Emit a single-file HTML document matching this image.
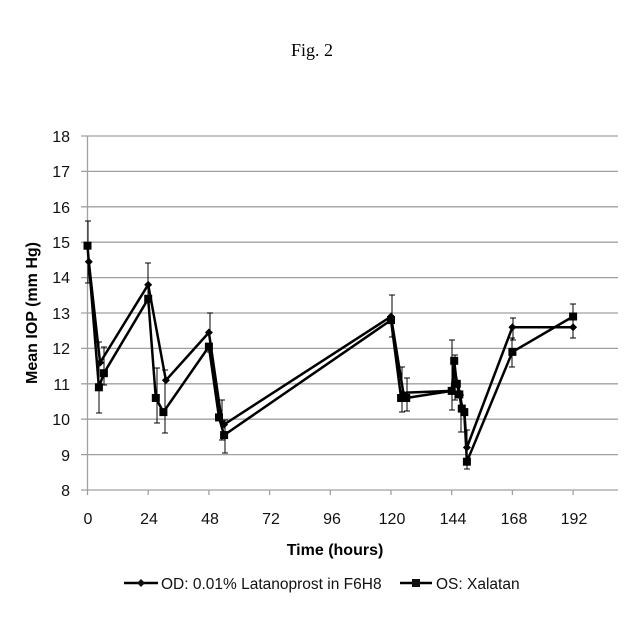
<!DOCTYPE html>
<html><head><style>body{margin:0;background:#fff}svg{display:block}</style></head><body>
<svg width="640" height="640" xmlns="http://www.w3.org/2000/svg" font-family="Liberation Sans, sans-serif">
<rect width="640" height="640" fill="#fff"/>
<text x="312" y="56" font-family="Liberation Serif, serif" font-size="18" text-anchor="middle">Fig. 2</text>
<g stroke="#a0a0a0" stroke-width="1.3">
<line x1="81" x2="618" y1="136" y2="136"/><line x1="81" x2="618" y1="171.4" y2="171.4"/><line x1="81" x2="618" y1="206.8" y2="206.8"/><line x1="81" x2="618" y1="242.2" y2="242.2"/><line x1="81" x2="618" y1="277.6" y2="277.6"/><line x1="81" x2="618" y1="313" y2="313"/><line x1="81" x2="618" y1="348.4" y2="348.4"/><line x1="81" x2="618" y1="383.8" y2="383.8"/><line x1="81" x2="618" y1="419.2" y2="419.2"/><line x1="81" x2="618" y1="454.6" y2="454.6"/><line x1="81" x2="618" y1="490" y2="490"/>
<line x1="87.5" x2="87.5" y1="136" y2="495"/>
<line x1="148.2" x2="148.2" y1="490" y2="495"/><line x1="208.9" x2="208.9" y1="490" y2="495"/><line x1="269.6" x2="269.6" y1="490" y2="495"/><line x1="330.3" x2="330.3" y1="490" y2="495"/><line x1="391" x2="391" y1="490" y2="495"/><line x1="451.7" x2="451.7" y1="490" y2="495"/><line x1="512.4" x2="512.4" y1="490" y2="495"/><line x1="573.1" x2="573.1" y1="490" y2="495"/>
</g>
<g font-size="16" text-anchor="end" fill="#111">
<text x="70" y="142">18</text><text x="70" y="177">17</text><text x="70" y="213">16</text><text x="70" y="248">15</text><text x="70" y="283">14</text><text x="70" y="319">13</text><text x="70" y="354">12</text><text x="70" y="390">11</text><text x="70" y="425">10</text><text x="70" y="461">9</text><text x="70" y="496">8</text>
</g>
<g font-size="16" text-anchor="middle" fill="#111">
<text x="88" y="524">0</text><text x="149" y="524">24</text><text x="210" y="524">48</text><text x="271" y="524">72</text><text x="332" y="524">96</text><text x="392" y="524">120</text><text x="453" y="524">144</text><text x="514" y="524">168</text><text x="574" y="524">192</text>
</g>
<text x="335" y="555" font-size="16" font-weight="bold" text-anchor="middle">Time (hours)</text>
<text transform="translate(37,313) rotate(-90)" font-size="16" font-weight="bold" text-anchor="middle">Mean IOP (mm Hg)</text>
<g stroke="#000" stroke-width="1">
<path d="M88 221V283M85 221H91M85 283H91M99 342V413M96 342H102M96 413H102M104 347V385M101 347H107M101 385H107M148 263V300M145 263H151M145 300H151M157 368V423M154 368H160M154 423H160M165 370V433M162 370H168M162 433H168M210 313V352M207 313H213M207 352H213M222 400V440M219 400H225M219 440H225M225 420V453M222 420H228M222 453H228M392 295V337M389 295H395M389 337H395M402 367V412M399 367H405M399 412H405M407 378V411M404 378H410M404 411H410M452 340V410M449 340H455M449 410H455M455 355V400M452 355H458M452 400H458M461 395V432M458 395H464M458 432H464M467 430V469M464 430H470M464 469H470M513 318V340M510 318H516M510 340H516M512 338V367M509 338H515M509 367H515M573 304V338M570 304H576M570 338H576"/>
</g>
<g fill="none" stroke="#000" stroke-width="2.5" stroke-linejoin="round">
<polyline points="88.8,261.7 100.1,362.6 148.2,284.7 165.9,380.3 208.9,332.5 221.5,419.2 224.1,424.5 391,316.5 403.6,394.4 406.2,392.6 451.7,390.9 454.2,369.6 456.8,380.3 459.3,390.9 461.8,405 464.3,412.1 466.9,447.5 512.4,327.2 573.1,327.2"/>
<polyline points="87.5,245.7 98.9,387.3 103.9,373.2 148.2,298.8 155.8,398 163.4,412.1 208.9,346.6 219,417.4 224.1,435.1 391,320.1 401.1,398 406.2,398 451.7,390.9 454.2,360.8 456.8,383.8 459.3,394.4 461.8,408.6 464.3,412.1 466.9,461.7 512.4,351.9 573.1,316.5"/>
</g>
<g fill="#000">
<rect x="83.5" y="241.7" width="8" height="8"/><rect x="94.9" y="383.3" width="8" height="8"/><rect x="99.9" y="369.2" width="8" height="8"/><rect x="144.2" y="294.8" width="8" height="8"/><rect x="151.8" y="394" width="8" height="8"/><rect x="159.4" y="408.1" width="8" height="8"/><rect x="204.9" y="342.6" width="8" height="8"/><rect x="215" y="413.4" width="8" height="8"/><rect x="220.1" y="431.1" width="8" height="8"/><rect x="387" y="316.1" width="8" height="8"/><rect x="397.1" y="394" width="8" height="8"/><rect x="402.2" y="394" width="8" height="8"/><rect x="447.7" y="386.9" width="8" height="8"/><rect x="450.2" y="356.8" width="8" height="8"/><rect x="452.8" y="379.8" width="8" height="8"/><rect x="455.3" y="390.4" width="8" height="8"/><rect x="457.8" y="404.6" width="8" height="8"/><rect x="460.3" y="408.1" width="8" height="8"/><rect x="462.9" y="457.7" width="8" height="8"/><rect x="508.4" y="347.9" width="8" height="8"/><rect x="569.1" y="312.5" width="8" height="8"/>
<path d="M88.8 257.7l4 4-4 4-4-4zM100.1 358.6l4 4-4 4-4-4zM148.2 280.7l4 4-4 4-4-4zM165.9 376.3l4 4-4 4-4-4zM208.9 328.5l4 4-4 4-4-4zM224.1 420.5l4 4-4 4-4-4zM391 312.5l4 4-4 4-4-4zM403.6 390.4l4 4-4 4-4-4zM466.9 443.5l4 4-4 4-4-4zM512.4 323.2l4 4-4 4-4-4zM573.1 323.2l4 4-4 4-4-4z"/>
</g>
<g font-size="15.5" fill="#111">
<line x1="124" x2="158" y1="583" y2="583" stroke="#000" stroke-width="2.5"/><path d="M141 579l4 4-4 4-4-4z"/>
<text x="161" y="589">OD: 0.01% Latanoprost in F6H8</text>
<line x1="400" x2="432" y1="583" y2="583" stroke="#000" stroke-width="2.5"/><rect x="412" y="579" width="8" height="8"/>
<text x="436" y="589">OS: Xalatan</text>
</g>
</svg>
</body></html>
